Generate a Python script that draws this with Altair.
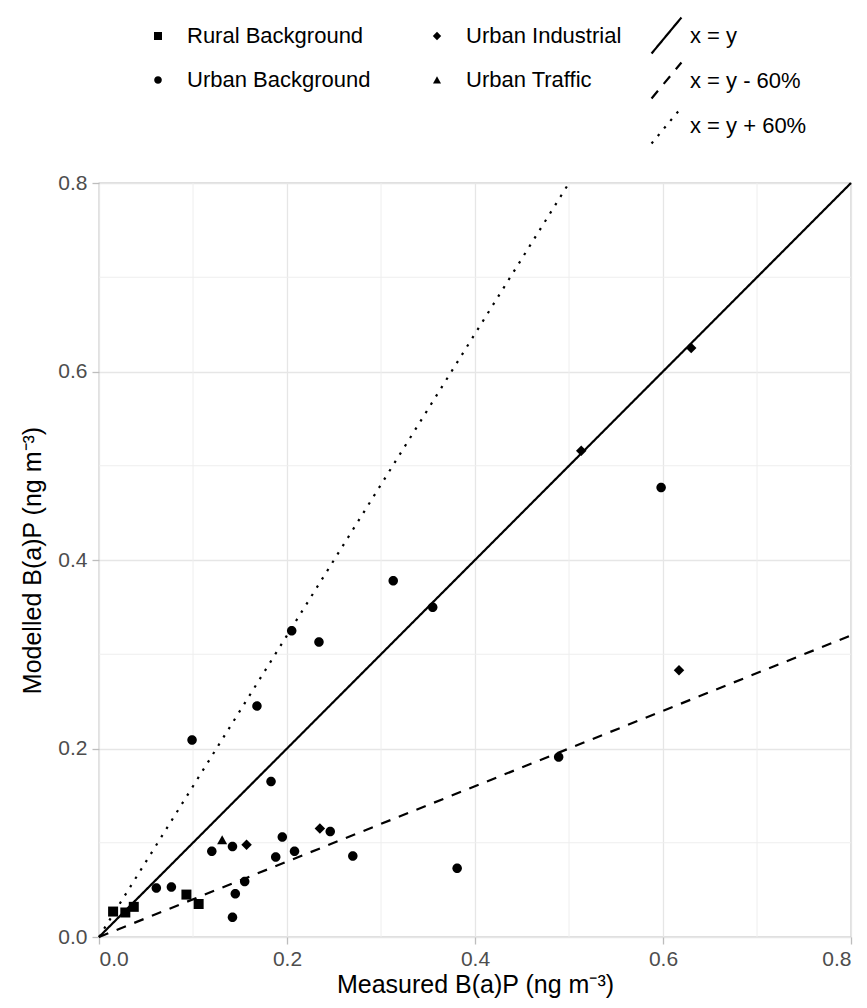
import altair as alt
import pandas as pd

FONT = "Liberation Sans"

# ---- data ----
categories = ["Rural Background", "Urban Background", "Urban Industrial", "Urban Traffic"]
# symbol outlines in the unit square [-1, 1]
shapes = [
    "M-1,-1H1V1H-1Z",
    "M-0.95,0A0.95,0.95 0 1,0 0.95,0A0.95,0.95 0 1,0 -0.95,0Z",
    "M0,-1.05L1.05,0L0,1.05L-1.05,0Z",
    "M0,-0.95L1,0.85L-1,0.85Z",
]

rb_x = [0.015, 0.028, 0.037, 0.093, 0.106]
rb_y = [0.027, 0.026, 0.032, 0.045, 0.035]

ub_x = [0.061, 0.077, 0.099, 0.120, 0.142, 0.142, 0.145, 0.155, 0.168, 0.183, 0.188,
        0.195, 0.205, 0.208, 0.234, 0.246, 0.270, 0.313, 0.355, 0.381, 0.489, 0.598]
ub_y = [0.052, 0.053, 0.209, 0.091, 0.096, 0.021, 0.046, 0.059, 0.245, 0.165, 0.085,
        0.106, 0.325, 0.091, 0.313, 0.112, 0.086, 0.378, 0.350, 0.073, 0.191, 0.477]

ui_x = [0.157, 0.235, 0.513, 0.617, 0.630]
ui_y = [0.098, 0.115, 0.516, 0.283, 0.625]

ut_x = [0.131]
ut_y = [0.103]

line_names = ["x = y", "x = y - 60%", "x = y + 60%"]
line_x_end = [0.8, 0.8, 0.5]
line_y_end = [0.8, 0.32, 0.8]
line_dashes = [[1, 0], [10, 9], [2.4, 7.4]]

tick_values = [0.0, 0.2, 0.4, 0.6, 0.8]
minor_grid = [0.1, 0.3, 0.5, 0.7]

# ---- tables ----
rows = []
for cat, xs, ys in [("Rural Background", rb_x, rb_y), ("Urban Background", ub_x, ub_y),
                    ("Urban Industrial", ui_x, ui_y), ("Urban Traffic", ut_x, ut_y)]:
    for a, b in zip(xs, ys):
        rows.append({"cat": cat, "x": a, "y": b})
pts = pd.DataFrame(rows)

lrows = []
for i, n in enumerate(line_names):
    lrows.append({"line": n, "x": 0.0, "y": 0.0, "o": 0})
    lrows.append({"line": n, "x": line_x_end[i], "y": line_y_end[i], "o": 1})
lines = pd.DataFrame(lrows)

vgrid = pd.DataFrame({"x": minor_grid})
hgrid = pd.DataFrame({"y": minor_grid})

xscale = alt.Scale(domain=[0, 0.8], nice=False, zero=False)
yscale = alt.Scale(domain=[0, 0.8], nice=False, zero=False)

xaxis = alt.Axis(values=tick_values, format=".1f", title="Measured B(a)P (ng m⁻³)",
                 grid=True, gridColor="#e6e6e6", gridWidth=1.3, domain=False,
                 tickColor="#bdbdbd", tickWidth=1.3, tickSize=7,
                 labelColor="#4d4d4d", labelFontSize=21, labelFont=FONT, labelPadding=4,
                 titleFont=FONT, titleFontSize=25, titleFontWeight="normal",
                 titleColor="black", titlePadding=3)
yaxis = alt.Axis(values=tick_values, format=".1f", title="Modelled B(a)P (ng m⁻³)",
                 grid=True, gridColor="#e6e6e6", gridWidth=1.3, domain=False,
                 tickColor="#bdbdbd", tickWidth=1.3, tickSize=7,
                 labelColor="#4d4d4d", labelFontSize=21, labelFont=FONT, labelPadding=5,
                 titleFont=FONT, titleFontSize=25, titleFontWeight="normal",
                 titleColor="black", titlePadding=12)

X = lambda: alt.X("x:Q", scale=xscale, axis=xaxis)
Y = lambda: alt.Y("y:Q", scale=yscale, axis=yaxis)

vminor = alt.Chart(vgrid).mark_rule(color="#eeeeee", strokeWidth=1).encode(x=X())
hminor = alt.Chart(hgrid).mark_rule(color="#eeeeee", strokeWidth=1).encode(y=Y())

line_layer = alt.Chart(lines).mark_line(color="black", strokeWidth=2.2, strokeCap="butt").encode(
    x=X(), y=Y(), order="o:Q",
    strokeDash=alt.StrokeDash(
        "line:N",
        scale=alt.Scale(domain=line_names, range=line_dashes),
        legend=alt.Legend(orient="none", legendX=548, legendY=-167, title=None,
                          symbolType="M-0.83,1L0.83,-1", symbolSize=1296,
                          symbolStrokeWidth=2.2, symbolStrokeColor="black",
                          labelFont=FONT, labelFontSize=22, labelColor="black",
                          labelOffset=4, rowPadding=0, padding=0, labelLimit=400),
    ),
)

point_layer = alt.Chart(pts).mark_point(filled=True, color="black", opacity=1, size=100,
                                        strokeWidth=0).encode(
    x=X(), y=Y(),
    shape=alt.Shape(
        "cat:N",
        scale=alt.Scale(domain=categories, range=shapes),
        legend=alt.Legend(orient="none", legendX=48, legendY=-158, title=None, columns=2,
                          symbolSize=64, symbolFillColor="black",
                          labelFont=FONT, labelFontSize=22, labelLimit=400,
                          labelColor="black", labelOffset=18, columnPadding=55,
                          rowPadding=22, padding=0),
    ),
)

chart = alt.layer(vminor, hminor, line_layer, point_layer).properties(
    width=752, height=754,
    autosize=alt.AutoSizeParams(type="none"),
    padding={"left": 91, "top": 175, "right": 8, "bottom": 63},
    background="white",
).configure_view(stroke="#bdbdbd", strokeWidth=1.3)

chart.save("out.html", embed_options={"renderer": "svg", "actions": False})
